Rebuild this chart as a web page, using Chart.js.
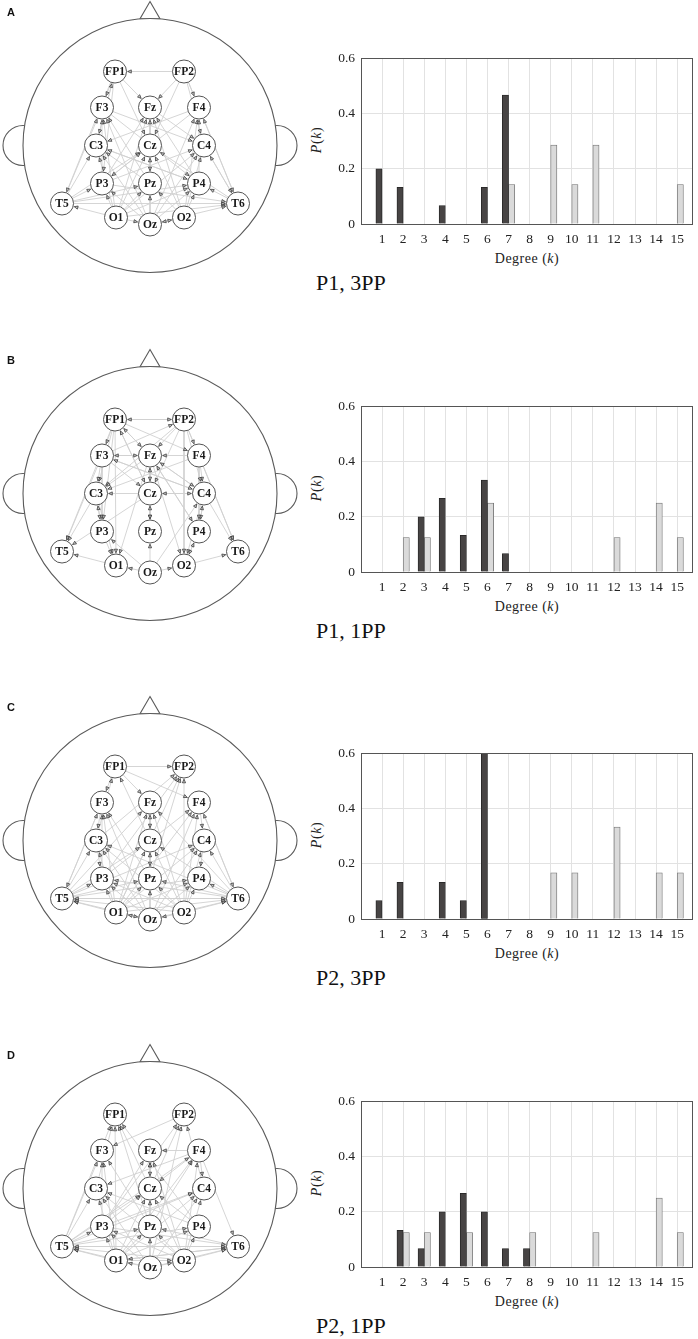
<!DOCTYPE html>
<html>
<head>
<meta charset="utf-8">
<script src="https://cdn.jsdelivr.net/npm/chart.js@4.4.0/dist/chart.umd.min.js"></script>
<style>
  body { margin: 0; background: #fff; }
  #page { position: relative; width: 698px; height: 1339px; overflow: hidden; }
  .panel { position: absolute; left: 0; width: 698px; height: 347px; }
  .letter { position: absolute; left: 7px; top: 6px; font: bold 11px "Liberation Sans", Arial, sans-serif; color: #111; }
  .head { position: absolute; left: 0; top: 0; width: 300px; height: 300px; }
  .bars { position: absolute; left: 330px; top: 40px; width: 368px; height: 210px; }
  .ytitle { position: absolute; left: 292px; top: 133px; width: 50px; text-align: center; letter-spacing: 0.6px;
            font: italic 14px "Liberation Serif", serif; color: #222; transform: rotate(-90deg); line-height: 14px; }
  .ytitle span { font-style: normal; }
  .xtitle { position: absolute; left: 427px; top: 252px; width: 200px; text-align: center; letter-spacing: 0.5px;
            font: 14px "Liberation Serif", serif; color: #222; line-height: 14px; }
  .caption { position: absolute; left: 316px; top: 272px; font: 22px "Liberation Serif", serif; color: #111; line-height: 22px; white-space: nowrap; }
</style>
</head>
<body>
<div id="page"></div>
<script>
// ---- chart data ----
const degrees = [1, 2, 3, 4, 5, 6, 7, 8, 9, 10, 11, 12, 13, 14, 15];
const yTicks = [0, 0.2, 0.4, 0.6];
const panelLetters = ['A', 'B', 'C', 'D'];
const panelCaptions = ['P1, 3PP', 'P1, 1PP', 'P2, 3PP', 'P2, 1PP'];

const darkA  = [0.2, 0.133, 0, 0.067, 0, 0.133, 0.467, 0, 0, 0, 0, 0, 0, 0, 0];
const lightA = [0, 0, 0, 0, 0, 0, 0.143, 0, 0.286, 0.143, 0.286, 0, 0, 0, 0.143];
const darkB  = [0, 0, 0.2, 0.267, 0.133, 0.333, 0.067, 0, 0, 0, 0, 0, 0, 0, 0];
const lightB = [0, 0.125, 0.125, 0, 0, 0.25, 0, 0, 0, 0, 0, 0.125, 0, 0.25, 0.125];
const darkC  = [0.067, 0.133, 0, 0.133, 0.067, 0.6, 0, 0, 0, 0, 0, 0, 0, 0, 0];
const lightC = [0, 0, 0, 0, 0, 0, 0, 0, 0.167, 0.167, 0, 0.333, 0, 0.167, 0.167];
const darkD  = [0, 0.133, 0.067, 0.2, 0.267, 0.2, 0.067, 0.067, 0, 0, 0, 0, 0, 0, 0];
const lightD = [0, 0.125, 0.125, 0, 0.125, 0, 0, 0.125, 0, 0, 0.125, 0, 0, 0.25, 0.125];

// electrode layout, head units (head radius 127, centre 0,0)
const electrodeNames = ['FP1', 'FP2', 'F3', 'Fz', 'F4', 'C3', 'Cz', 'C4', 'P3', 'Pz', 'P4', 'T5', 'T6', 'O1', 'Oz', 'O2'];
const electrodeX = [-35, 34, -48, 0, 49, -54, 0, 54, -48, 0, 49, -88, 88, -34, 0, 34];
const electrodeY = [-74, -74, -38, -38, -38, 0, 0, 0, 38, 38, 38, 58, 58, 72, 79, 72];

// directed links, "source>target" (arrow drawn at the target)
const edgesA = `FP2>FP1 C3>FP1
 FP1>F3 O1>F3 T5>F3 P3>F3 Pz>F3 Oz>F3
 FP1>Fz FP2>Fz O1>Fz Oz>Fz O2>Fz P3>Fz P4>Fz
 FP2>F4 O2>F4 T6>F4 P4>F4 Oz>F4
 FP1>C3 F4>C3 T5>C3 O1>C3 Oz>C3 P4>C3 Pz>C3
 FP1>Cz FP2>Cz T5>Cz O1>Cz Oz>Cz O2>Cz T6>Cz P3>Cz
 FP2>C4 F3>C4 Fz>C4 T6>C4 O2>C4 Oz>C4 O1>C4 P3>C4
 FP1>P3 F4>P3 T5>P3 O1>P3 Oz>P3
 Fz>Pz O1>Pz Oz>Pz O2>Pz T5>Pz
 F3>P4 C3>P4 T5>P4 O1>P4 T6>P4 O2>P4 Oz>P4
 O1>T5 FP1>T5
 C4>T6 O1>T6 Oz>T6 T5>T6 P3>T6 FP2>T6
 O1>Oz O2>Oz Oz>O2`;

const edgesB = `FP2>FP1 Fz>FP1 Cz>FP1
 FP1>FP2 F3>FP2
 FP1>F3 Fz>F3 C4>F3
 F3>Fz FP1>Fz FP2>Fz F4>Fz C4>Fz P4>Fz Cz>Fz
 FP2>F4 FP1>F4
 FP1>C3 F3>C3 FP2>C3 Fz>C3 F4>C3 Cz>C3 P3>C3
 FP1>Cz Fz>Cz FP2>Cz F3>Cz C4>Cz Pz>Cz
 F4>C4 FP2>C4 Fz>C4 F3>C4 Cz>C4 P4>C4 Oz>C4
 C3>P3 F3>P3 FP1>P3 Oz>P3
 Cz>Pz Fz>Pz Oz>Pz
 C4>P4 F4>P4 Fz>P4 O2>P4
 FP1>T5 F3>T5 C3>T5 Cz>T5 O1>T5
 FP2>T6 F4>T6 C4>T6 O2>T6
 C3>O1 P3>O1 Fz>O1 FP1>O1 Oz>O1
 C4>O2 P4>O2 Fz>O2 FP2>O2 Oz>O2`;

const edgesC = `C3>FP1 Cz>FP1
 FP1>FP2 O1>FP2 P3>FP2 Pz>FP2 C3>FP2 O2>FP2
 FP1>F3 P3>F3 O1>F3 T5>F3 Pz>F3 Oz>F3
 FP1>Fz O1>Fz O2>Fz Oz>Fz T5>Fz T6>Fz
 FP1>F4 O2>F4 Oz>F4 T6>F4 P3>F4 O1>F4
 F3>C3 T5>C3 O1>C3 Oz>C3 O2>C3 T6>C3
 Fz>Cz O1>Cz O2>Cz Oz>Cz T5>Cz T6>Cz
 F4>C4 T6>C4 O2>C4 Oz>C4 O1>C4 T5>C4
 C3>P3 T5>P3 O1>P3 Oz>P3 O2>P3 T6>P3
 Cz>Pz T5>Pz T6>Pz O1>Pz Oz>Pz O2>Pz
 C4>P4 T5>P4 O1>P4 Oz>P4 O2>P4 T6>P4
 F3>T5 O1>T5 Oz>T5 O2>T5 T6>T5
 F4>T6 O2>T6 Oz>T6 O1>T6 T5>T6
 O1>Oz O2>Oz Oz>O1`;

const edgesD = `T5>FP1 C3>FP1 O1>FP1 Pz>FP1 P4>FP1 Cz>FP1
 Oz>FP2 P3>FP2 C4>FP2 Cz>FP2
 FP2>F3 T5>F3 O1>F3 Pz>F3 P3>F3
 F4>Fz Oz>Fz O2>Fz Pz>Fz P3>Fz
 T5>F4 Pz>F4 O1>F4 O2>F4
 F4>C3 T5>C3 O1>C3 Oz>C3 O2>C3 P4>C3
 Fz>Cz F4>Cz T5>Cz O1>Cz Oz>Cz O2>Cz P3>Cz P4>Cz
 F4>C4 T5>C4 O1>C4 Oz>C4 O2>C4 P3>C4
 T5>P3 O1>P3 Oz>P3 O2>P3
 T5>Pz O1>Pz Oz>Pz O2>Pz T6>Pz
 O1>P4 O2>P4 T5>P4
 O1>T5 Oz>T5 O2>T5 T6>T5
 F4>T6 O1>T6 Oz>T6 O2>T6 T5>T6 P3>T6
 Oz>O1 T6>O1
 Oz>O2 O1>O2`;

const panels = [
  { dark: darkA, light: lightA, edges: edgesA },
  { dark: darkB, light: lightB, edges: edgesB },
  { dark: darkC, light: lightC, edges: edgesC },
  { dark: darkD, light: lightD, edges: edgesD }
];

const NODE_R = 11.5;
const page = document.getElementById('page');

function parseEdges(text) {
  return text.trim().split(/\s+/).map(s => s.split('>').map(n => electrodeNames.indexOf(n)));
}

// arrowheads + electrode labels
const headDecor = {
  id: 'headDecor',
  afterDatasetsDraw(chart, args, opts) {
    const ctx = chart.ctx;
    const sx = chart.scales.x, sy = chart.scales.y;
    const px = i => sx.getPixelForValue(electrodeX[i]);
    const py = i => sy.getPixelForValue(electrodeY[i]);
    ctx.save();
    ctx.lineWidth = 0.7;
    ctx.strokeStyle = '#2a2a2a';
    ctx.fillStyle = '#c4c4c4';
    opts.edges.forEach(([s, t]) => {
      const dx = px(t) - px(s), dy = py(t) - py(s);
      const len = Math.hypot(dx, dy);
      const ux = dx / len, uy = dy / len;
      const tipX = px(t) - ux * (NODE_R + 1.2), tipY = py(t) - uy * (NODE_R + 1.2);
      const bx = tipX - ux * 3.6, by = tipY - uy * 3.6;
      ctx.beginPath();
      ctx.moveTo(tipX, tipY);
      ctx.lineTo(bx - uy * 1.6, by + ux * 1.6);
      ctx.lineTo(bx + uy * 1.6, by - ux * 1.6);
      ctx.closePath();
      ctx.fill();
      ctx.stroke();
    });
    ctx.fillStyle = '#1a1a1a';
    ctx.font = 'bold 11.5px "Liberation Serif", serif';
    ctx.textAlign = 'center';
    ctx.textBaseline = 'middle';
    electrodeNames.forEach((n, i) => ctx.fillText(n, px(i), py(i) + 0.5));
    ctx.restore();
  }
};

// box around the plot area
const frame = {
  id: 'frame',
  afterDatasetsDraw(chart) {
    const a = chart.chartArea, ctx = chart.ctx;
    ctx.save();
    ctx.strokeStyle = '#555';
    ctx.lineWidth = 1;
    ctx.strokeRect(Math.round(a.left) + 0.5, Math.round(a.top) + 0.5,
                   Math.round(a.right - a.left) - 1, Math.round(a.bottom - a.top));
    ctx.restore();
  }
};

function makeHead(canvas, edges) {
  const nodes = electrodeNames.map((n, i) => ({ x: electrodeX[i], y: electrodeY[i] }));
  const edgeSets = edges.map(([s, t]) => ({
    data: [nodes[s], nodes[t]],
    showLine: true,
    borderColor: '#d0d0d0',
    borderWidth: 0.9,
    pointRadius: 0,
    order: 1,
    clip: false
  }));
  new Chart(canvas, {
    type: 'scatter',
    data: {
      datasets: [
        { data: nodes, pointRadius: NODE_R, pointBackgroundColor: '#fff', pointBorderColor: '#555',
          pointBorderWidth: 1, order: 0, clip: false },
        ...edgeSets,
        { data: [{ x: 0, y: 0 }], pointRadius: 127, pointBackgroundColor: '#fff', pointBorderColor: '#5a5a5a',
          pointBorderWidth: 1.1, order: 2, clip: false },
        { data: [{ x: -127, y: 0 }, { x: 127, y: 0 }], pointRadius: 20, pointBackgroundColor: '#fff',
          pointBorderColor: '#5a5a5a', pointBorderWidth: 1.1, order: 3, clip: false },
        { data: [{ x: 0, y: -132.5 }], pointStyle: 'triangle', pointRadius: 11.5, pointBackgroundColor: '#fff',
          pointBorderColor: '#5a5a5a', pointBorderWidth: 1.1, order: 3, clip: false }
      ]
    },
    options: {
      responsive: true,
      maintainAspectRatio: false,
      animation: false,
      events: [],
      layout: { padding: 0, autoPadding: false },
      plugins: { legend: { display: false }, tooltip: { enabled: false }, headDecor: { edges } },
      scales: {
        x: { type: 'linear', min: -150, max: 150, display: false },
        y: { type: 'linear', min: -145.5, max: 154.5, reverse: true, display: false }
      }
    },
    plugins: [headDecor]
  });
}

function makeBars(canvas, dark, light) {
  const tickFont = { family: '"Liberation Serif", serif', size: 13.5 };
  new Chart(canvas, {
    type: 'bar',
    data: {
      datasets: [
        { data: degrees.map((k, i) => ({ x: k, y: dark[i] })), backgroundColor: '#474444',
          borderColor: '#222', borderWidth: 0.8, barThickness: 6.2 },
        { data: degrees.map((k, i) => ({ x: k, y: light[i] })), backgroundColor: '#dadada',
          borderColor: '#6e6e6e', borderWidth: 0.8, barThickness: 6.2 }
      ]
    },
    options: {
      responsive: true,
      maintainAspectRatio: false,
      animation: false,
      events: [],
      layout: { padding: { top: 18.3, right: 5, left: 0, bottom: 0 } },
      plugins: { legend: { display: false }, tooltip: { enabled: false } },
      scales: {
        x: {
          type: 'linear', min: 0, max: 15.75, offset: false,
          afterBuildTicks: s => { s.ticks = degrees.map(v => ({ value: v })); },
          afterFit: s => { s.height = 26; },
          ticks: { font: tickFont, color: '#222', padding: 7, autoSkip: false, maxRotation: 0 },
          grid: { color: '#e2e2e2', drawTicks: false, offset: false },
          border: { display: false }
        },
        y: {
          min: 0, max: 0.6,
          afterBuildTicks: s => { s.ticks = yTicks.map(v => ({ value: v })); },
          afterFit: s => { s.width = 31; },
          ticks: { font: tickFont, color: '#222', padding: 6,
                   callback: v => (v === 0 ? '0' : v.toFixed(1)) },
          grid: { color: '#e2e2e2', drawTicks: false },
          border: { display: false }
        }
      }
    },
    plugins: [frame]
  });
}

panels.forEach((p, i) => {
  const panel = document.createElement('div');
  panel.className = 'panel';
  panel.style.top = (i * 347.5) + 'px';
  panel.innerHTML =
    '<div class="head"><canvas></canvas></div>' +
    '<div class="letter">' + panelLetters[i] + '</div>' +
    '<div class="bars"><canvas></canvas></div>' +
    '<div class="ytitle">P<span>(</span>k<span>)</span></div>' +
    '<div class="xtitle">Degree (<i>k</i>)</div>' +
    '<div class="caption">' + panelCaptions[i] + '</div>';
  page.appendChild(panel);
  const canvases = panel.querySelectorAll('canvas');
  makeHead(canvases[0], parseEdges(p.edges));
  makeBars(canvases[1], p.dark, p.light);
});
</script>
</body>
</html>
